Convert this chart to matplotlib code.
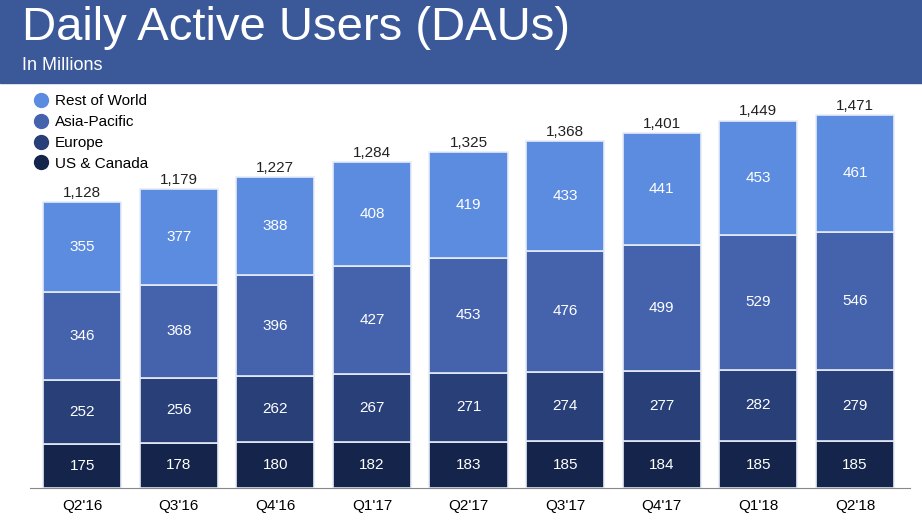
import matplotlib
matplotlib.use("Agg")
import matplotlib.pyplot as plt
from matplotlib.lines import Line2D
import numpy as np

plt.rcParams['font.family'] = ['Liberation Sans', 'DejaVu Sans']

quarters = ["Q2'16","Q3'16","Q4'16","Q1'17","Q2'17","Q3'17","Q4'17","Q1'18","Q2'18"]
us_canada = [175,178,180,182,183,185,184,185,185]
europe = [252,256,262,267,271,274,277,282,279]
asia_pacific = [346,368,396,427,453,476,499,529,546]
rest_world = [355,377,388,408,419,433,441,453,461]
totals = ["1,128","1,179","1,227","1,284","1,325","1,368","1,401","1,449","1,471"]

series = [("US & Canada", us_canada, "#14244a"),
          ("Europe", europe, "#283f78"),
          ("Asia-Pacific", asia_pacific, "#4563ad"),
          ("Rest of World", rest_world, "#5b8ce0")]

fig = plt.figure(figsize=(9.22, 5.21), dpi=100)
fig.patches.append(plt.Rectangle((0, 1-83/521), 1, 83/521, transform=fig.transFigure,
                                 color="#3b5998", zorder=0))
fig.text(22/922, 1-28/521, "Daily Active Users (DAUs)", color="white", fontsize=34, va="center")
fig.text(22/922, 1-66/521, "In Millions", color="white", fontsize=13, va="center")

ax = fig.add_axes([30/922, 1-488/521, 880/922, 403/521])
x = np.arange(len(quarters))
bottom = np.zeros(len(quarters))
for name, vals, col in series:
    vals = np.array(vals)
    ax.bar(x, vals, 0.81, bottom=bottom, color=col, edgecolor="#e6ecf7", linewidth=1.2)
    for xi, b, v in zip(x, bottom, vals):
        ax.text(xi, b + v/2, str(v), ha="center", va="center", color="white", fontsize=11)
    bottom += vals
for xi, b, t in zip(x, bottom, totals):
    ax.text(xi, b + 8, t, ha="center", va="bottom", color="#222222", fontsize=11)

ax.set_xlim(-0.54, 8.57)
ax.set_ylim(0, 1589)
ax.set_xticks(x)
ax.set_xticklabels(quarters, fontsize=11)
ax.tick_params(axis="x", length=0, pad=8)
ax.set_yticks([])
for s in ["top", "right", "left"]:
    ax.spines[s].set_visible(False)
ax.spines["bottom"].set_color("#888888")

handles = [Line2D([], [], marker="o", linestyle="", markersize=10, color=c, label=n)
           for n, _, c in series[::-1]]
ax.legend(handles=handles, loc="upper left", bbox_to_anchor=(-0.012, 1.0), frameon=False,
          fontsize=11, handletextpad=0.1, handlelength=1.6, labelspacing=0.45, borderaxespad=0.2)

fig.savefig("out.png", dpi=100)
